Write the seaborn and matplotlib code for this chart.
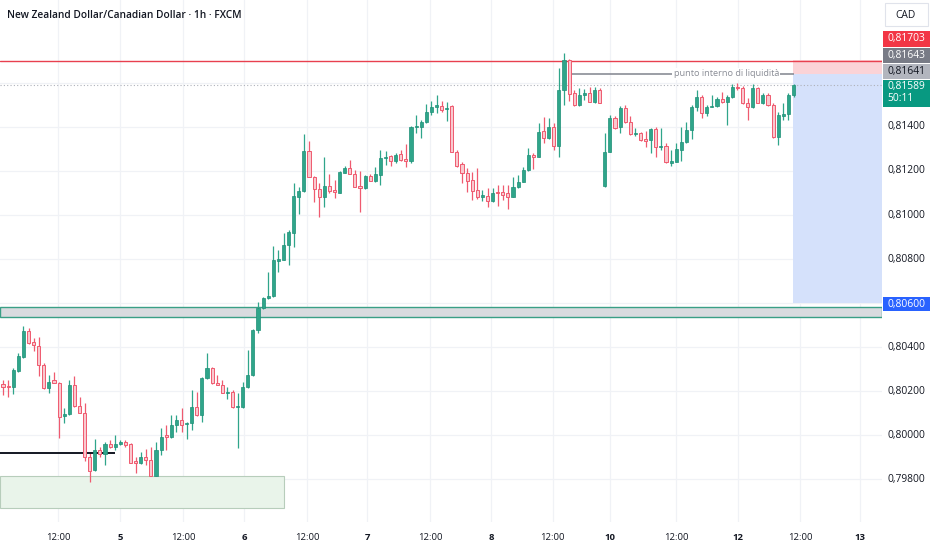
import numpy as np
import pandas as pd
import matplotlib.pyplot as plt
import seaborn as sns
from matplotlib.patches import Rectangle
from matplotlib.transforms import blended_transform_factory

# hourly NZDCAD candles
opens = [0.80232, 0.80223, 0.80218, 0.80291, 0.80355, 0.80473, 0.80423, 0.80405, 0.80318, 0.80214,
         0.80250, 0.80236, 0.80086, 0.80095, 0.80227, 0.80132, 0.80100, 0.79900, 0.79841, 0.79932,
         0.79914, 0.79959, 0.79945, 0.79959, 0.79968, 0.79959, 0.79882, 0.79873, 0.79900, 0.79886,
         0.79814, 0.79932, 0.80000, 0.79991, 0.80045, 0.80068, 0.80050, 0.80055, 0.80127, 0.80091,
         0.80259, 0.80305, 0.80236, 0.80227, 0.80191, 0.80195, 0.80127, 0.80127, 0.80218, 0.80273,
         0.80477, 0.80577, 0.80623, 0.80632, 0.80791, 0.80795, 0.80864, 0.80918, 0.81082, 0.81109,
         0.81291, 0.81173, 0.81118, 0.81082, 0.81132, 0.81114, 0.81100, 0.81191, 0.81214, 0.81186,
         0.81132, 0.81123, 0.81177, 0.81155, 0.81182, 0.81259, 0.81268, 0.81245, 0.81277, 0.81255,
         0.81245, 0.81400, 0.81400, 0.81423, 0.81468, 0.81491, 0.81495, 0.81482, 0.81495, 0.81286,
         0.81232, 0.81191, 0.81159, 0.81114, 0.81082, 0.81086, 0.81064, 0.81105, 0.81105, 0.81100,
         0.81082, 0.81127, 0.81150, 0.81205, 0.81273, 0.81264, 0.81382, 0.81350, 0.81400, 0.81314,
         0.81568, 0.81704, 0.81554, 0.81500, 0.81545, 0.81554, 0.81514, 0.81568, 0.81132, 0.81286,
         0.81441, 0.81400, 0.81486, 0.81423, 0.81368, 0.81373, 0.81345, 0.81341, 0.81391, 0.81309,
         0.81314, 0.81236, 0.81241, 0.81295, 0.81332, 0.81386, 0.81491, 0.81536, 0.81464, 0.81491,
         0.81495, 0.81527, 0.81514, 0.81536, 0.81582, 0.81577, 0.81509, 0.81491, 0.81577, 0.81509,
         0.81545, 0.81500, 0.81355, 0.81450, 0.81459, 0.81545]
highs = [0.80250, 0.80250, 0.80305, 0.80373, 0.80495, 0.80486, 0.80441, 0.80445, 0.80327, 0.80273,
         0.80286, 0.80240, 0.80123, 0.80250, 0.80268, 0.80173, 0.80145, 0.79923, 0.79982, 0.79945,
         0.79968, 0.79977, 0.80000, 0.79977, 0.79977, 0.79962, 0.79900, 0.79923, 0.79936, 0.79945,
         0.79968, 0.80032, 0.80045, 0.80091, 0.80091, 0.80123, 0.80059, 0.80205, 0.80195, 0.80264,
         0.80373, 0.80308, 0.80273, 0.80250, 0.80218, 0.80205, 0.80191, 0.80241, 0.80386, 0.80480,
         0.80605, 0.80627, 0.80741, 0.80859, 0.80841, 0.80918, 0.80932, 0.81145, 0.81127, 0.81368,
         0.81336, 0.81175, 0.81145, 0.81264, 0.81186, 0.81159, 0.81200, 0.81223, 0.81250, 0.81205,
         0.81200, 0.81182, 0.81186, 0.81218, 0.81295, 0.81291, 0.81273, 0.81282, 0.81295, 0.81323,
         0.81404, 0.81455, 0.81432, 0.81505, 0.81518, 0.81545, 0.81518, 0.81514, 0.81500, 0.81295,
         0.81241, 0.81214, 0.81195, 0.81214, 0.81114, 0.81123, 0.81123, 0.81136, 0.81136, 0.81136,
         0.81173, 0.81182, 0.81218, 0.81305, 0.81282, 0.81418, 0.81445, 0.81441, 0.81418, 0.81668,
         0.81736, 0.81709, 0.81568, 0.81577, 0.81573, 0.81582, 0.81582, 0.81577, 0.81373, 0.81455,
         0.81450, 0.81495, 0.81500, 0.81450, 0.81395, 0.81377, 0.81382, 0.81395, 0.81400, 0.81395,
         0.81327, 0.81295, 0.81327, 0.81400, 0.81423, 0.81500, 0.81568, 0.81545, 0.81500, 0.81545,
         0.81536, 0.81559, 0.81545, 0.81595, 0.81600, 0.81586, 0.81532, 0.81595, 0.81580, 0.81555,
         0.81555, 0.81509, 0.81468, 0.81509, 0.81555, 0.81595]
lows = [0.80182, 0.80173, 0.80186, 0.80286, 0.80350, 0.80414, 0.80382, 0.80268, 0.80209, 0.80191,
        0.80236, 0.79986, 0.80055, 0.80091, 0.80127, 0.80100, 0.79882, 0.79786, 0.79836, 0.79900,
        0.79864, 0.79941, 0.79932, 0.79955, 0.79945, 0.79873, 0.79827, 0.79870, 0.79864, 0.79814,
        0.79812, 0.79909, 0.79932, 0.79986, 0.80014, 0.80014, 0.79982, 0.80023, 0.80086, 0.80059,
        0.80255, 0.80232, 0.80227, 0.80191, 0.80164, 0.80123, 0.79941, 0.80123, 0.80214, 0.80268,
        0.80464, 0.80575, 0.80620, 0.80627, 0.80741, 0.80795, 0.80773, 0.80855, 0.81005, 0.81105,
        0.81173, 0.81059, 0.80991, 0.81036, 0.81100, 0.81077, 0.81098, 0.81189, 0.81186, 0.81127,
        0.81014, 0.81120, 0.81155, 0.81152, 0.81136, 0.81227, 0.81223, 0.81236, 0.81245, 0.81218,
        0.81236, 0.81373, 0.81350, 0.81418, 0.81455, 0.81464, 0.81468, 0.81427, 0.81286, 0.81218,
        0.81145, 0.81105, 0.81068, 0.81073, 0.81064, 0.81036, 0.81059, 0.81041, 0.81068, 0.81027,
        0.81080, 0.81123, 0.81148, 0.81200, 0.81209, 0.81262, 0.81327, 0.81345, 0.81295, 0.81264,
        0.81500, 0.81518, 0.81495, 0.81495, 0.81523, 0.81514, 0.81509, 0.81509, 0.81127, 0.81286,
        0.81391, 0.81373, 0.81418, 0.81364, 0.81359, 0.81336, 0.81309, 0.81282, 0.81264, 0.81295,
        0.81236, 0.81223, 0.81239, 0.81245, 0.81327, 0.81345, 0.81473, 0.81441, 0.81450, 0.81489,
        0.81491, 0.81509, 0.81409, 0.81532, 0.81568, 0.81505, 0.81432, 0.81486, 0.81509, 0.81505,
        0.81495, 0.81350, 0.81318, 0.81432, 0.81432, 0.81536]
closes = [0.80218, 0.80218, 0.80296, 0.80359, 0.80473, 0.80418, 0.80409, 0.80318, 0.80214, 0.80241,
          0.80236, 0.80082, 0.80095, 0.80227, 0.80132, 0.80100, 0.79900, 0.79836, 0.79932, 0.79914,
          0.79959, 0.79945, 0.79959, 0.79968, 0.79955, 0.79873, 0.79873, 0.79900, 0.79886, 0.79814,
          0.79932, 0.79991, 0.79991, 0.80045, 0.80068, 0.80045, 0.80055, 0.80127, 0.80091, 0.80259,
          0.80305, 0.80236, 0.80227, 0.80191, 0.80195, 0.80127, 0.80132, 0.80218, 0.80273, 0.80477,
          0.80577, 0.80623, 0.80632, 0.80795, 0.80800, 0.80864, 0.80923, 0.81086, 0.81109, 0.81291,
          0.81173, 0.81118, 0.81082, 0.81132, 0.81109, 0.81105, 0.81195, 0.81214, 0.81186, 0.81127,
          0.81123, 0.81177, 0.81155, 0.81186, 0.81259, 0.81264, 0.81245, 0.81273, 0.81250, 0.81245,
          0.81400, 0.81404, 0.81423, 0.81468, 0.81491, 0.81500, 0.81477, 0.81486, 0.81286, 0.81223,
          0.81191, 0.81155, 0.81109, 0.81082, 0.81091, 0.81064, 0.81100, 0.81100, 0.81091, 0.81082,
          0.81127, 0.81150, 0.81205, 0.81273, 0.81264, 0.81377, 0.81350, 0.81400, 0.81314, 0.81568,
          0.81704, 0.81550, 0.81500, 0.81545, 0.81554, 0.81514, 0.81568, 0.81509, 0.81286, 0.81441,
          0.81395, 0.81486, 0.81423, 0.81368, 0.81373, 0.81341, 0.81336, 0.81391, 0.81309, 0.81314,
          0.81241, 0.81245, 0.81300, 0.81332, 0.81386, 0.81491, 0.81536, 0.81464, 0.81491, 0.81495,
          0.81527, 0.81514, 0.81536, 0.81582, 0.81577, 0.81509, 0.81491, 0.81577, 0.81509, 0.81545,
          0.81500, 0.81355, 0.81455, 0.81459, 0.81545, 0.81589]

time_ticks = [10.8, 22.9, 35.3, 47.3, 59.6, 71.4, 83.7, 95.7, 107.8, 119.0, 132.0, 144.1, 156.3, 168.0]
time_labels = ['12:00', '5', '12:00', '6', '12:00', '7', '12:00', '8', '12:00', '10', '12:00', '12', '12:00', '13']
price_ticks = [0.814, 0.812, 0.810, 0.808, 0.804, 0.802, 0.800, 0.798]

resistance = 0.81700
liquidity = 0.81641
stop_price, entry_price, target_price = 0.81703, 0.81643, 0.80600
last_price = 0.81589
band_low, band_high = 0.80536, 0.80582
demand_low, demand_high = 0.79668, 0.79814
support_line = 0.79918

GREEN = '#2fa58a'
GREEN_EDGE = '#1d8f76'
RED = '#ef5a6f'
RED_FILL = '#f9c9cf'

sns.set_style('white')
plt.rcParams['font.family'] = ['Open Sans', 'DejaVu Sans']

W, H = 932, 550
fig = plt.figure(figsize=(W / 100, H / 100), dpi=100)
ax = fig.add_axes([0, 28 / H, 882 / W, 522 / H])
x_lo, x_hi = -0.59, 172.35
ax.set_xlim(x_lo, x_hi)
ax.set_ylim(0.79605, 0.81977)
for s in ax.spines.values():
    s.set_visible(False)
ax.set_xticks([])
ax.set_yticks([])

# faint grid
for t in time_ticks:
    ax.axvline(t, color='#f0f2f6', lw=0.9, zorder=0)
for p in price_ticks + [0.806, 0.816]:
    ax.axhline(p, color='#f0f2f6', lw=0.9, zorder=0)

# short position tool
ax.add_patch(Rectangle((154.9, entry_price), x_hi - 154.9, stop_price - entry_price,
                       facecolor='#fbd3d7', edgecolor='none', zorder=1))
ax.add_patch(Rectangle((154.9, target_price), x_hi - 154.9, entry_price - target_price,
                       facecolor='#d5e1fb', edgecolor='none', zorder=1))

# zones
ax.add_patch(Rectangle((x_lo, band_low), x_hi - x_lo, band_high - band_low,
                       facecolor='#d9dbdf', edgecolor='#3a9f86', lw=1.0, zorder=1))
ax.add_patch(Rectangle((x_lo, demand_low), 55.1 - x_lo, demand_high - demand_low,
                       facecolor='#e9f4ea', edgecolor='#b7cdbb', lw=0.8, zorder=1))
ax.hlines(support_line, x_lo, 22.0, color='#131722', lw=1.4, zorder=4)

ax.axhline(resistance, color='#e8404f', lw=1.0, zorder=2)
ax.axhline(last_price, color='#aeb1b9', lw=0.8, ls=(0, (1, 2)), zorder=2)
ax.hlines(liquidity, 110.8, 155.0, color='#8a8d96', lw=1.2, zorder=2)
ax.text(141.8, liquidity, 'punto interno di liquidità', fontsize=6.6, color='#8a8d96',
        ha='center', va='center', zorder=3,
        bbox=dict(facecolor='white', edgecolor='none', pad=1.0))

# candles
df = pd.DataFrame({'open': opens, 'high': highs, 'low': lows, 'close': closes})
df['bar'] = np.arange(len(df))
up = df['close'] >= df['open']
body_low = df[['open', 'close']].min(axis=1)
body_h = (df['close'] - df['open']).abs().clip(lower=0.00002)

ax.vlines(df['bar'][up], df['low'][up], df['high'][up], color=GREEN, lw=0.9, zorder=3)
ax.vlines(df['bar'][~up], df['low'][~up], df['high'][~up], color=RED, lw=0.9, zorder=3)
ax.bar(df['bar'][up], body_h[up], bottom=body_low[up], width=0.62,
       color=GREEN, edgecolor=GREEN_EDGE, lw=0.5, zorder=4)
ax.bar(df['bar'][~up], body_h[~up], bottom=body_low[~up], width=0.62,
       color=RED_FILL, edgecolor=RED, lw=0.7, zorder=4)

# price scale
tr = blended_transform_factory(ax.transAxes, ax.transData)
for p in price_ticks:
    ax.text(1 + 6 / 882, p, f'{p:.5f}'.replace('.', ','), transform=tr, fontsize=7.4,
            color='#131722', va='center', ha='left', clip_on=False)


def px_box(x0, y0, x1, y1, face, edge='none'):
    fig.add_artist(Rectangle((x0 / W, 1 - y1 / H), (x1 - x0) / W, (y1 - y0) / H,
                             transform=fig.transFigure, facecolor=face, edgecolor=edge, lw=0.8))


def px_text(x, y, s, **kw):
    fig.text(x / W, 1 - y / H, s, va='center', **kw)


px_box(883, 31, 930, 47, '#f23645')
px_text(887, 39, '0,81703', fontsize=7.4, color='white')
px_box(883, 48, 930, 63, '#787b86')
px_text(887, 55.5, '0,81643', fontsize=7.4, color='white')
px_box(883, 64, 930, 79, '#b2b5be')
px_text(887, 71.5, '0,81641', fontsize=7.4, color='#131722')
px_box(883, 80, 930, 107, '#089981')
px_text(887, 87, '0,81589', fontsize=7.4, color='white')
px_text(887, 99, '50:11', fontsize=7.4, color='white')
px_box(883, 297, 930, 311, '#2962ff')
px_text(887, 304, '0,80600', fontsize=7.4, color='white')

px_box(885, 3, 928, 26, 'white', edge='#e0e3eb')
px_text(906, 15, 'CAD', fontsize=7.4, color='#131722', ha='center')

px_text(7, 15, 'New Zealand Dollar/Canadian Dollar · 1h · FXCM', fontsize=7.3,
        color='#131722', fontweight='semibold')

# time scale
for t, lab in zip(time_ticks, time_labels):
    ax.text(t, -0.03, lab, transform=blended_transform_factory(ax.transData, ax.transAxes),
            fontsize=6.8, color='#131722', ha='center', va='center',
            fontweight='normal' if ':' in lab else 'bold', clip_on=False)

fig.savefig('out.png', dpi=100)
